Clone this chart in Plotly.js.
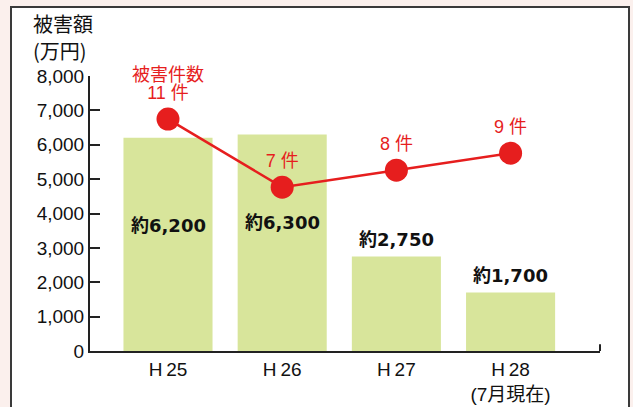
<!DOCTYPE html>
<html><head><meta charset="utf-8">
<script src="https://cdn.plot.ly/plotly-3.0.1.min.js"></script>
<style>
html,body{margin:0;padding:0;background:#fbf0ed;width:633px;height:407px;overflow:hidden;}
#panel{position:absolute;left:10px;top:6px;width:620px;height:420px;background:#fff;border:2px solid #3a3a3a;box-sizing:border-box;}
#chart{position:absolute;left:0;top:0;width:633px;height:407px;}
</style></head><body>
<div id="panel"></div><div id="chart"></div>
<script>
// ---- data ----
const categories = ['H25', 'H26', 'H27', 'H28'];
const categoryLabels = ['H\u200925', 'H\u200926', 'H\u200927', 'H\u200928<br>(7月現在)'];
const damageAmount = [6200, 6300, 2750, 1700];   // 被害額 (万円)
const caseCounts = [11, 7, 8, 9];                 // 被害件数
const yTickValues = [0, 1000, 2000, 3000, 4000, 5000, 6000, 7000, 8000];
const caseUnit = '件';
const seriesName = '被害件数';
const yTitleLines = ['被害額', '(万円)'];

// ---- styles ----
const BAR = '#d8e59b';
const RED = '#e61e1e';
const INK = '#111';
const LAT = 'Liberation Sans, Arial, Noto Sans CJK JP, sans-serif';
const CJK = 'Liberation Sans, Noto Sans CJK JP, sans-serif';
const JP = 'Noto Sans CJK JP, sans-serif';

const bars = {
  type: 'bar', x: categories, y: damageAmount, width: 0.78,
  marker: {color: BAR, line: {width: 0}}, hoverinfo: 'skip', showlegend: false
};
const line = {
  type: 'scatter', mode: 'lines+markers+text', x: categories, y: caseCounts, yaxis: 'y2',
  line: {color: RED, width: 2.5},
  marker: {color: RED, size: 23},
  text: caseCounts.map(c => c + ' ' + caseUnit),
  textposition: 'top center',
  textfont: {family: CJK, size: 18, color: RED},
  cliponaxis: false, hoverinfo: 'skip', showlegend: false
};

const annotations = [];
damageAmount.forEach((v, i) => {
  const inside = v > 5000;
  annotations.push({
    x: categories[i], y: v, xref: 'x', yref: 'y',
    text: '約' + v.toLocaleString('en-US'),
    showarrow: false, xanchor: 'center', yanchor: 'middle',
    yshift: inside ? -88 : 17,
    font: {family: 'DejaVu Sans, Noto Sans CJK JP, sans-serif', size: 18, color: INK, weight: 'bold'}
  });
});
annotations.push({
  x: categories[0], y: caseCounts[0], xref: 'x', yref: 'y2',
  text: seriesName, showarrow: false, xanchor: 'center', yanchor: 'middle', yshift: 44,
  font: {family: CJK, size: 18, color: RED}
});
annotations.push({
  x: -0.114, y: 1.191, xref: 'paper', yref: 'paper', text: yTitleLines[0],
  showarrow: false, xanchor: 'left', yanchor: 'middle', borderpad: 0,
  font: {family: JP, size: 20, color: INK}
});
annotations.push({
  x: -0.114, y: 1.091, xref: 'paper', yref: 'paper', text: yTitleLines[1],
  showarrow: false, xanchor: 'left', yanchor: 'middle', borderpad: 0,
  font: {family: JP, size: 20, color: INK}
});

const layout = {
  width: 633, height: 407,
  margin: {l: 90, r: 33, t: 76, b: 56},
  paper_bgcolor: 'rgba(0,0,0,0)', plot_bgcolor: 'rgba(0,0,0,0)',
  showlegend: false,
  xaxis: {
    type: 'category', range: [-0.683, 3.783],
    tickvals: categories, ticktext: categoryLabels,
    showline: true, linecolor: '#222', linewidth: 2,
    ticks: '', showgrid: false, zeroline: false,
    tickfont: {family: CJK, size: 19, color: INK}, fixedrange: true
  },
  yaxis: {
    range: [0, 8000], tickvals: yTickValues, tickformat: ',d',
    showline: true, linecolor: '#222', linewidth: 2,
    ticks: 'inside', ticklen: 10, tickwidth: 2, tickcolor: '#222',
    showgrid: false, zeroline: false,
    tickfont: {family: LAT, size: 19, color: INK}, fixedrange: true
  },
  yaxis2: {overlaying: 'y', range: [-2.62, 13.53], visible: false, fixedrange: true},
  shapes: [{type: 'line', xref: 'paper', yref: 'paper', x0: 1, x1: 1, y0: 0, y1: 0.025,
            line: {color: '#222', width: 2}}],
  annotations: annotations
};

Plotly.newPlot('chart', [bars, line], layout, {displayModeBar: false, staticPlot: true});
</script>
</body></html>
